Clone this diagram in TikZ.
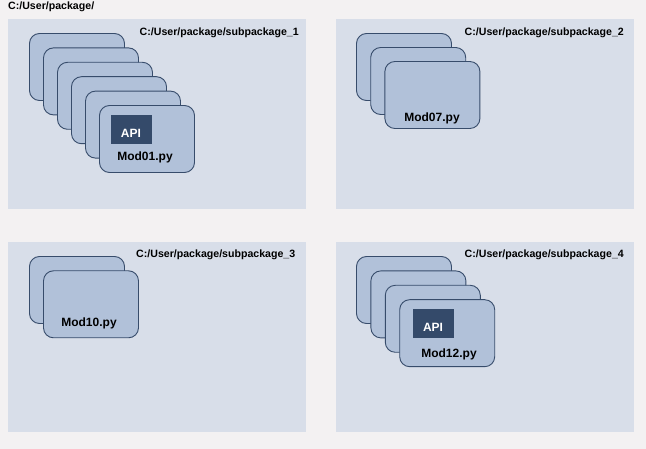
\documentclass[tikz,border=0pt]{standalone}
\usepackage{fontspec}
\setmainfont{Liberation Sans}
\definecolor{bgc}{HTML}{F3F1F2}
\definecolor{panelc}{HTML}{D8DEE9}
\definecolor{cardc}{HTML}{B1C1D9}
\definecolor{cardline}{HTML}{374C6B}
\definecolor{apic}{HTML}{344A6A}
\begin{document}
\begin{tikzpicture}[x=1pt,y=-1pt,
  panel/.style={fill=panelc,draw=none},
  card/.style={draw=cardline,fill=cardc,line width=0.9pt,rounded corners=10pt,minimum width=95pt,minimum height=67pt,inner sep=0pt,outer sep=0pt},
  apibox/.style={fill=apic,draw=none,minimum width=41pt,minimum height=29pt,inner sep=0pt},
  apitext/.style={text=white,font=\bfseries\fontsize{12}{14}\selectfont,inner sep=0pt},
  modtext/.style={font=\bfseries\fontsize{12}{14}\selectfont,inner sep=0pt},
  pathtext/.style={font=\bfseries\fontsize{10.6}{12}\selectfont,inner sep=0pt}]
\useasboundingbox[fill=bgc] (0,0) rectangle (646,449);
% panels
\fill[panel] (8,19) rectangle (306,209);
\fill[panel] (336,19) rectangle (634,209);
\fill[panel] (8,242) rectangle (306,432);
\fill[panel] (336,242) rectangle (634,432);
\node[pathtext,anchor=west] (root) at (8,7) {C:/User/package/};
\node[pathtext,anchor=east] (p1) at (299,33) {C:/User/package/subpackage\_1};
\node[pathtext,anchor=east] (p2) at (624,33) {C:/User/package/subpackage\_2};
\node[pathtext,anchor=east] (p3) at (295.5,255) {C:/User/package/subpackage\_3};
\node[pathtext,anchor=east] (p4) at (624,255) {C:/User/package/subpackage\_4};
% panel 1 cards
\foreach \i in {0,...,5}{
  \node[card] (a\i) at ({77+14*\i},{67+14.4*\i}) {};
}
\node[apibox] (api1) at (131.5,129.5) {};
\node[apitext] (api1t) at (131,133.5) {API};
\node[modtext] (m1) at (145,157) {Mod01.py};
% panel 2 cards
\foreach \i in {0,...,2}{
  \node[card] (b\i) at ({404+14.2*\i},{67+14*\i}) {};
}
\node[modtext] (m2) at (432,118) {Mod07.py};
% panel 3 cards
\foreach \i in {0,...,1}{
  \node[card] (c\i) at ({77+14*\i},{290+14.3*\i}) {};
}
\node[modtext] (m3) at (89,323) {Mod10.py};
% panel 4 cards
\foreach \i in {0,...,3}{
  \node[card] (d\i) at ({404+14.4*\i},{290+14.4*\i}) {};
}
\node[apibox] (api4) at (433.5,323.5) {};
\node[apitext] (api4t) at (433,327.5) {API};
\node[modtext] (m4) at (449,354) {Mod12.py};
\end{tikzpicture}
\end{document}
